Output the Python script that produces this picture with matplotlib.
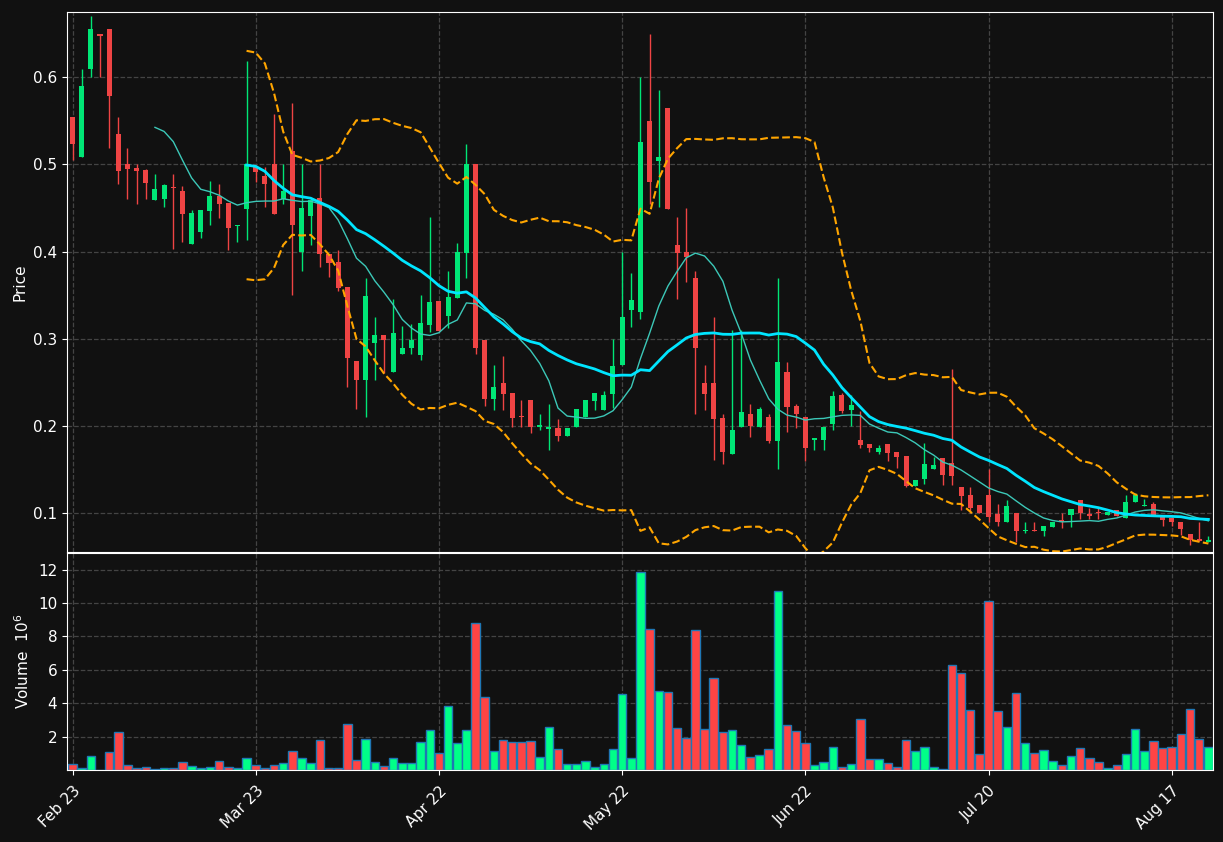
import numpy as np
import matplotlib
matplotlib.use("Agg")
import matplotlib.pyplot as plt
import pandas as pd

opens = [0.555,0.509,0.610,0.649,0.655,0.535,0.500,0.496,0.494,0.459,0.460,0.474,0.469,0.409,0.423,0.446,0.464,0.456,0.429,0.449,
         0.497,0.487,0.500,0.460,0.515,0.399,0.441,0.461,0.397,0.388,0.359,0.274,0.252,0.295,0.304,0.262,0.282,0.289,0.281,0.316,
         0.343,0.326,0.347,0.398,0.500,0.299,0.231,0.249,0.238,0.211,0.230,0.199,0.196,0.197,0.188,0.199,0.210,0.228,0.218,0.237,
         0.270,0.333,0.331,0.550,0.504,0.565,0.407,0.399,0.370,0.249,0.249,0.209,0.168,0.198,0.214,0.198,0.210,0.182,0.262,0.223,
         0.210,0.184,0.184,0.202,0.235,0.218,0.184,0.179,0.170,0.179,0.170,0.165,0.131,0.139,0.150,0.163,0.157,0.130,0.120,0.109,
         0.120,0.099,0.090,0.100,0.079,0.080,0.079,0.084,0.091,0.097,0.115,0.099,0.101,0.097,0.103,0.094,0.112,0.108,0.110,0.095,
         0.094,0.090,0.076,0.0685,0.067]
closes = [0.523,0.590,0.655,0.648,0.579,0.492,0.495,0.493,0.479,0.472,0.476,0.473,0.443,0.444,0.448,0.464,0.455,0.427,0.431,0.500,
          0.491,0.477,0.443,0.470,0.430,0.450,0.459,0.397,0.387,0.358,0.278,0.252,0.349,0.304,0.299,0.307,0.289,0.299,0.318,0.342,
          0.309,0.348,0.399,0.500,0.289,0.231,0.244,0.236,0.209,0.210,0.198,0.200,0.198,0.188,0.197,0.219,0.230,0.238,0.235,0.269,
          0.325,0.344,0.526,0.480,0.508,0.449,0.398,0.394,0.289,0.236,0.208,0.170,0.195,0.216,0.200,0.219,0.183,0.273,0.222,0.213,
          0.174,0.185,0.199,0.234,0.217,0.224,0.178,0.174,0.174,0.169,0.164,0.131,0.138,0.156,0.155,0.144,0.142,0.119,0.106,0.100,
          0.095,0.090,0.108,0.079,0.080,0.079,0.085,0.090,0.090,0.104,0.100,0.096,0.100,0.101,0.096,0.112,0.120,0.109,0.097,0.092,
          0.090,0.082,0.069,0.068,0.069]
highs = [0.555,0.610,0.670,0.650,0.655,0.555,0.519,0.500,0.495,0.489,0.478,0.489,0.475,0.448,0.448,0.481,0.478,0.456,0.431,0.619,
         0.497,0.497,0.558,0.500,0.570,0.500,0.459,0.500,0.397,0.402,0.359,0.274,0.370,0.325,0.304,0.345,0.315,0.317,0.350,0.440,
         0.343,0.378,0.410,0.523,0.500,0.299,0.270,0.280,0.238,0.230,0.230,0.214,0.225,0.208,0.197,0.219,0.230,0.238,0.240,0.300,
         0.400,0.375,0.600,0.650,0.585,0.565,0.440,0.450,0.378,0.270,0.325,0.213,0.310,0.310,0.225,0.221,0.214,0.370,0.273,0.225,
         0.210,0.185,0.199,0.240,0.238,0.235,0.217,0.179,0.178,0.179,0.170,0.165,0.138,0.180,0.164,0.163,0.265,0.130,0.130,0.109,
         0.150,0.110,0.115,0.100,0.090,0.090,0.085,0.090,0.100,0.104,0.115,0.105,0.105,0.101,0.103,0.120,0.123,0.116,0.113,0.095,
         0.094,0.090,0.076,0.090,0.073]
lows = [0.505,0.509,0.600,0.600,0.519,0.477,0.460,0.455,0.460,0.459,0.451,0.403,0.411,0.409,0.416,0.431,0.439,0.402,0.411,0.413,
        0.480,0.451,0.443,0.455,0.350,0.378,0.408,0.382,0.371,0.355,0.245,0.219,0.210,0.253,0.260,0.262,0.282,0.282,0.276,0.308,
        0.309,0.312,0.347,0.370,0.282,0.223,0.218,0.218,0.199,0.199,0.192,0.195,0.172,0.183,0.188,0.199,0.210,0.218,0.218,0.220,
        0.270,0.313,0.322,0.455,0.451,0.449,0.345,0.365,0.214,0.218,0.161,0.156,0.168,0.198,0.187,0.198,0.180,0.150,0.193,0.197,
        0.160,0.172,0.172,0.195,0.215,0.200,0.175,0.170,0.168,0.160,0.152,0.130,0.131,0.133,0.150,0.132,0.132,0.103,0.100,0.100,
        0.090,0.085,0.090,0.066,0.077,0.079,0.073,0.084,0.083,0.084,0.093,0.093,0.093,0.097,0.096,0.094,0.112,0.108,0.097,0.085,
        0.085,0.074,0.063,0.068,0.067]
volumes = [0.38,0.13,0.86,0.02,1.1,2.3,0.32,0.13,0.2,0.08,0.13,0.13,0.5,0.26,0.13,0.2,0.56,0.2,0.13,0.74,
           0.32,0.13,0.32,0.44,1.16,0.74,0.44,1.82,0.13,0.13,2.78,0.62,1.88,0.5,0.26,0.74,0.44,0.44,1.7,2.42,
           1.04,3.86,1.64,2.42,8.79,4.35,1.16,1.82,1.7,1.7,1.76,0.8,2.6,1.28,0.38,0.38,0.56,0.2,0.38,1.28,
           4.58,0.74,11.86,8.43,4.76,4.7,2.54,1.94,8.37,2.48,5.49,2.3,2.42,1.52,0.8,0.92,1.28,10.72,2.72,2.36,
           1.64,0.32,0.5,1.4,0.2,0.38,3.08,0.68,0.68,0.44,0.2,1.82,1.16,1.4,0.2,0.08,6.32,5.84,3.62,0.98,
           10.12,3.56,2.6,4.64,1.64,1.04,1.22,0.56,0.32,0.86,1.34,0.74,0.5,0.13,0.32,0.98,2.48,1.16,1.76,1.34,
           1.4,2.18,3.68,1.88,1.4]
tick_pos = [0, 20, 40, 60, 80, 100, 120]
tick_labels = ["Feb 23", "Mar 23", "Apr 22", "May 22", "Jun 22", "Jul 20", "Aug 17"]

BG = "#111111"
UP, DN = "#00e676", "#ef4444"
VUP, VDN = "#00ff88", "#ff4444"

o = np.array(opens); c = np.array(closes); h = np.array(highs); l = np.array(lows)
v = np.array(volumes)
x = np.arange(len(o))
s = pd.Series(c)
ma10 = s.rolling(10).mean()
ma20 = s.rolling(20).mean()
sd20 = s.rolling(20).std(ddof=0)

fig = plt.figure(figsize=(12.23, 8.42), dpi=100, facecolor=BG)
ax = fig.add_axes([0.0548, 0.3444, 0.937, 0.6413], facecolor=BG)
axv = fig.add_axes([0.0548, 0.0855, 0.937, 0.2577], facecolor=BG, sharex=ax)

for a in (ax, axv):
    for sp in a.spines.values():
        sp.set_color("white")
    a.tick_params(colors="white", labelsize=11)
    a.grid(True, color="#444444", linestyle="--", linewidth=0.9)
    a.set_axisbelow(True)

up = c >= o
col = np.where(up, UP, DN)
ax.vlines(x, l, h, colors=col, linewidth=1)
body_h = np.maximum(np.abs(c - o), 0.0015)
ax.bar(x, body_h, bottom=np.minimum(o, c), width=0.55, color=col, linewidth=0)

ax.plot(x, ma10, color="#3cc8b8", linewidth=1)
ax.plot(x, ma20, color="#00e5ff", linewidth=2)
ax.plot(x, ma20 + 2 * sd20, color="#ffa500", linestyle="--", linewidth=1.5)
ax.plot(x, ma20 - 2 * sd20, color="#ffa500", linestyle="--", linewidth=1.5)

ax.set_ylim(0.055, 0.675)
ax.set_yticks([0.1, 0.2, 0.3, 0.4, 0.5, 0.6])
ax.set_ylabel("Price", color="white", fontsize=11)
ax.tick_params(axis="x", labelbottom=False)

axv.bar(x, v, width=0.93, color=np.where(up, VUP, VDN), edgecolor="#1f77b4", linewidth=1)
axv.set_ylim(0, 13)
axv.set_yticks([2, 4, 6, 8, 10, 12])
axv.set_ylabel("Volume  $10^6$", color="white", fontsize=11)
axv.set_xlim(-0.6, len(o) - 0.5)
axv.set_xticks(tick_pos)
axv.set_xticklabels(tick_labels, rotation=45, ha="right", rotation_mode="anchor")
axv.tick_params(axis="x", pad=6)

fig.savefig("out.png", dpi=100, facecolor=BG)
